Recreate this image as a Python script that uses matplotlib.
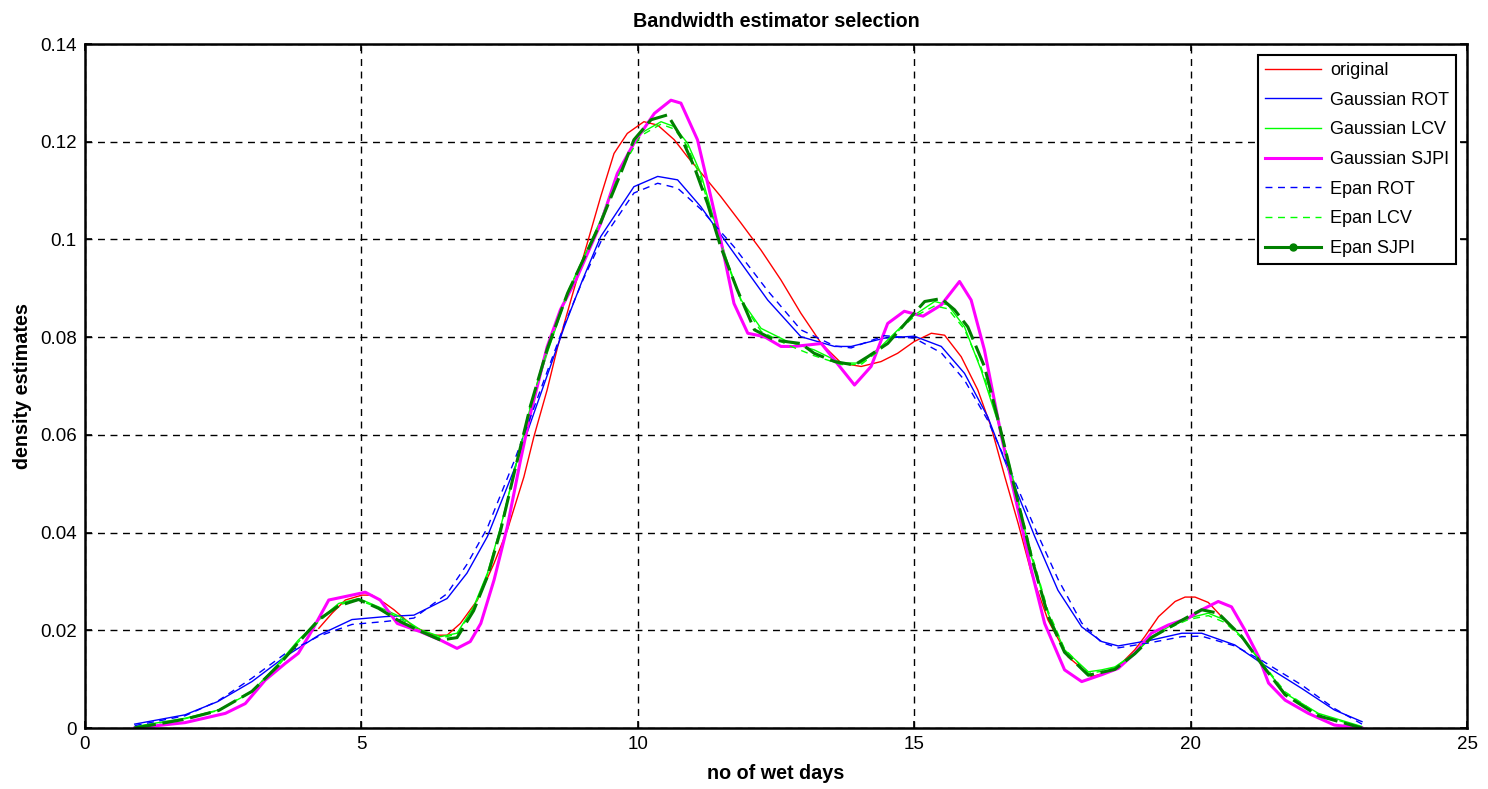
import matplotlib.pyplot as plt
from matplotlib.lines import Line2D

plt.rcParams['font.family'] = ['Liberation Sans', 'DejaVu Sans']

# values
rot_x = [0.9, 1.81, 2.4, 3.02, 3.62, 4.23, 4.83, 5.43, 5.95, 6.55, 6.91, 7.28, 7.76, 8.12, 8.67, 9.0,
         9.33, 9.93, 10.36, 10.72, 11.14, 11.74, 12.35, 12.95, 13.56, 13.86, 14.46, 15.0, 15.49, 15.91,
         16.33, 16.82, 17.18, 17.6, 18.03, 18.39, 18.69, 19.29, 19.84, 20.2, 20.8, 21.29, 22.01, 22.6, 23.1]
gauss_rot = [0.0008, 0.0027, 0.0054, 0.0095, 0.0146, 0.019, 0.0222, 0.0228, 0.0231, 0.0265, 0.0317,
             0.0392, 0.0528, 0.0644, 0.0821, 0.0917, 0.1006, 0.1108, 0.1129, 0.1122, 0.1067, 0.0972,
             0.0876, 0.0801, 0.0781, 0.0781, 0.0798, 0.0802, 0.0781, 0.0726, 0.0637, 0.0494, 0.0392,
             0.0282, 0.0207, 0.0177, 0.0168, 0.018, 0.0194, 0.0194, 0.017, 0.0132, 0.0081, 0.0037, 0.0013]
epan_rot = [0.0005, 0.0025, 0.0055, 0.0102, 0.0152, 0.0188, 0.0212, 0.0218, 0.0225, 0.0275, 0.0335,
            0.041, 0.0545, 0.0655, 0.0825, 0.0915, 0.0995, 0.1095, 0.1115, 0.1105, 0.1062, 0.0985,
            0.0895, 0.0815, 0.0782, 0.0778, 0.0803, 0.0798, 0.0768, 0.0712, 0.063, 0.0505, 0.041,
            0.0305, 0.0215, 0.0175, 0.0164, 0.0175, 0.0187, 0.0188, 0.0168, 0.0138, 0.0088, 0.004, 0.0008]

orig_x = [4.23, 4.47, 4.71, 5.01, 5.19, 5.43, 5.59, 5.95, 6.31, 6.55, 6.79, 7.1, 7.4, 7.64, 7.94, 8.12,
          8.36, 8.55, 8.79, 9.33, 9.57, 9.81, 10.11, 10.36, 10.66, 10.9, 11.2, 11.5, 11.87, 12.23, 12.59,
          12.95, 13.32, 13.68, 14.04, 14.4, 14.7, 15.0, 15.31, 15.55, 15.85, 16.15, 16.39, 16.64, 16.88,
          17.12, 17.42, 17.78, 18.21, 18.63, 18.99, 19.17, 19.42, 19.72, 19.9, 20.08, 20.32, 20.56, 20.77]
original = [0.0204, 0.0235, 0.0262, 0.0272, 0.0272, 0.0255, 0.0242, 0.0207, 0.019, 0.019, 0.0214, 0.0262,
            0.0337, 0.0405, 0.0514, 0.0596, 0.0692, 0.078, 0.0876, 0.1088, 0.1176, 0.1217, 0.1241, 0.1234,
            0.1204, 0.1169, 0.1129, 0.1088, 0.1033, 0.0978, 0.0917, 0.0849, 0.0787, 0.0747, 0.074, 0.075,
            0.0767, 0.0791, 0.0808, 0.0804, 0.076, 0.0692, 0.0617, 0.0514, 0.0419, 0.0317, 0.0221, 0.0146,
            0.0105, 0.0119, 0.016, 0.0187, 0.0228, 0.0259, 0.0268, 0.0268, 0.0257, 0.0228, 0.0201]

sjpi_x = [0.9, 1.81, 2.54, 2.9, 3.26, 3.62, 3.86, 4.11, 4.41, 4.83, 5.07, 5.34, 5.65, 6.07, 6.43, 6.73,
          6.97, 7.16, 7.4, 7.64, 7.88, 8.06, 8.36, 8.6, 8.88, 9.33, 9.63, 9.93, 10.3, 10.6, 10.78, 11.08,
          11.32, 11.5, 11.74, 11.99, 12.29, 12.59, 12.83, 13.32, 13.56, 13.92, 14.22, 14.52, 14.82, 15.16,
          15.49, 15.82, 16.03, 16.27, 16.58, 16.88, 17.12, 17.36, 17.72, 18.03, 18.39, 18.69, 18.99, 19.29,
          19.6, 19.96, 20.2, 20.5, 20.74, 20.98, 21.23, 21.41, 21.71, 22.13, 22.6, 23.1]
gauss_sjpi = [0.0, 0.0011, 0.003, 0.005, 0.0098, 0.0132, 0.0153, 0.02, 0.0262, 0.0272, 0.0278, 0.0262,
              0.0214, 0.0197, 0.018, 0.0163, 0.0177, 0.0214, 0.0303, 0.0412, 0.0549, 0.0644, 0.078,
              0.0856, 0.0917, 0.1033, 0.1135, 0.1197, 0.1258, 0.1285, 0.1279, 0.1204, 0.1088, 0.0999,
              0.0869, 0.0808, 0.0801, 0.0781, 0.0781, 0.0787, 0.0753, 0.0702, 0.074, 0.0828, 0.0853,
              0.0843, 0.0866, 0.0914, 0.0876, 0.0774, 0.0596, 0.0446, 0.0323, 0.0214, 0.0119, 0.0095,
              0.0109, 0.0122, 0.0153, 0.0194, 0.0211, 0.0225, 0.0242, 0.0259, 0.0248, 0.0201, 0.0146,
              0.0092, 0.0057, 0.003, 0.0006, 0.0]

lcv_x = [0.9, 1.81, 2.42, 3.02, 3.5, 3.86, 4.23, 4.59, 4.95, 5.31, 5.7, 6.07, 6.43, 6.73, 7.03, 7.28,
         7.52, 7.76, 8.06, 8.36, 8.73, 9.33, 9.69, 10.05, 10.42, 10.66, 10.9, 11.14, 11.38, 11.63, 11.87,
         12.23, 12.71, 13.19, 13.68, 14.04, 14.4, 14.76, 15.0, 15.37, 15.61, 15.91, 16.21, 16.52, 16.82,
         17.12, 17.42, 17.72, 18.15, 18.39, 18.63, 18.99, 19.29, 19.6, 19.96, 20.32, 20.62, 20.92, 21.29,
         21.71, 22.31, 23.1]
gauss_lcv = [0.0003, 0.002, 0.0037, 0.0074, 0.0132, 0.018, 0.0221, 0.0255, 0.0265, 0.0248, 0.0228,
             0.0201, 0.0187, 0.0194, 0.0248, 0.0317, 0.0412, 0.0521, 0.0658, 0.0767, 0.089, 0.104,
             0.1149, 0.1217, 0.1241, 0.1231, 0.1197, 0.1135, 0.104, 0.0951, 0.0876, 0.0818, 0.0791,
             0.0774, 0.0747, 0.0747, 0.0781, 0.0821, 0.0845, 0.0873, 0.0866, 0.0821, 0.0733, 0.0624,
             0.0487, 0.0351, 0.0235, 0.016, 0.0115, 0.0119, 0.0125, 0.0153, 0.0187, 0.0207, 0.0225,
             0.0235, 0.0221, 0.0187, 0.0132, 0.0071, 0.003, 0.0003]
epan_lcv = [0.0002, 0.0019, 0.0036, 0.0076, 0.0128, 0.0176, 0.0218, 0.0252, 0.0262, 0.0246, 0.0224,
            0.0199, 0.0184, 0.0192, 0.0244, 0.0314, 0.041, 0.0522, 0.0662, 0.0772, 0.0892, 0.1038,
            0.1142, 0.1212, 0.1236, 0.1226, 0.119, 0.1125, 0.1032, 0.0948, 0.0874, 0.0812, 0.0784,
            0.0762, 0.0744, 0.0744, 0.0776, 0.0818, 0.0842, 0.0864, 0.0858, 0.0816, 0.0738, 0.0632,
            0.0495, 0.0358, 0.024, 0.0162, 0.0112, 0.0116, 0.0124, 0.0152, 0.0186, 0.0204, 0.0222,
            0.023, 0.0216, 0.0185, 0.0134, 0.0074, 0.0028, 0.0001]

esjpi_x = [0.9, 1.81, 2.42, 3.02, 3.5, 3.86, 4.23, 4.59, 4.95, 5.31, 5.7, 6.07, 6.43, 6.73, 7.03, 7.28,
           7.52, 7.76, 8.06, 8.36, 8.73, 9.33, 9.69, 9.93, 10.24, 10.54, 10.78, 11.02, 11.26, 11.5, 11.8,
           12.11, 12.47, 12.95, 13.19, 13.56, 13.92, 14.16, 14.52, 15.0, 15.19, 15.49, 15.73, 15.97,
           16.27, 16.52, 16.82, 17.12, 17.42, 17.72, 18.15, 18.63, 18.99, 19.29, 19.6, 19.96, 20.2, 20.5,
           20.92, 21.29, 21.71, 22.31, 23.1]
epan_sjpi = [0.0, 0.0018, 0.0036, 0.0075, 0.0128, 0.0175, 0.0222, 0.025, 0.0263, 0.0245, 0.0218,
             0.0198, 0.018, 0.0185, 0.024, 0.031, 0.0405, 0.052, 0.066, 0.0775, 0.089, 0.1035, 0.1135,
             0.1204, 0.1245, 0.1255, 0.121, 0.1149, 0.1074, 0.0985, 0.0897, 0.0815, 0.0794, 0.0787,
             0.0767, 0.075, 0.0743, 0.076, 0.0787, 0.0849, 0.0873, 0.0879, 0.0856, 0.0821, 0.074, 0.063,
             0.049, 0.035, 0.023, 0.0155, 0.0108, 0.012, 0.0152, 0.0185, 0.0205, 0.0228, 0.0242, 0.0235,
             0.0188, 0.013, 0.0068, 0.0025, 0.0]

xticks = [0, 5, 10, 15, 20, 25]
yticks = [0, 0.02, 0.04, 0.06, 0.08, 0.1, 0.12, 0.14]
ytick_labels = ['0', '0.02', '0.04', '0.06', '0.08', '0.1', '0.12', '0.14']

fig = plt.figure(figsize=(14.88, 7.89), dpi=100)
ax = fig.add_axes([0.0571, 0.0773, 0.9288, 0.8669])

dark_green = (0, 0.5, 0)
ax.plot(orig_x, original, color='red', lw=1.0)
ax.plot(rot_x, gauss_rot, color='blue', lw=1.0)
ax.plot(lcv_x, gauss_lcv, color='lime', lw=1.0)
ax.plot(sjpi_x, gauss_sjpi, color='magenta', lw=2.2)
ax.plot(rot_x, epan_rot, color='blue', lw=1.0, dashes=(5, 4))
ax.plot(lcv_x, epan_lcv, color='lime', lw=1.0, dashes=(5, 4))
ax.plot(esjpi_x, epan_sjpi, color=dark_green, lw=2.2, dashes=(7, 2.2))

ax.set_xlim(0, 25)
ax.set_ylim(0, 0.14)
ax.set_xticks(xticks)
ax.set_yticks(yticks)
ax.set_yticklabels(ytick_labels)
ax.tick_params(direction='in', length=5, width=1.2, top=True, right=True, labelsize=13.5, pad=6)
ax.grid(True, color='black', linestyle=(0, (5, 4)), linewidth=1.0)
for s in ax.spines.values():
    s.set_linewidth(1.8)

ax.set_title('Bandwidth estimator selection', fontsize=14.2, fontweight='bold', pad=12)
ax.set_xlabel('no of wet days', fontsize=14.2, fontweight='bold', labelpad=8)
ax.set_ylabel('density estimates', fontsize=14.2, fontweight='bold', labelpad=6)

handles = [
    Line2D([0], [0], color='red', lw=1.0),
    Line2D([0], [0], color='blue', lw=1.0),
    Line2D([0], [0], color='lime', lw=1.0),
    Line2D([0], [0], color='magenta', lw=2.2),
    Line2D([0], [0], color='blue', lw=1.0, dashes=(5, 4)),
    Line2D([0], [0], color='lime', lw=1.0, dashes=(5, 4)),
    Line2D([0], [0], color=dark_green, lw=2.2, marker='o', markersize=5, markevery=[1]),
]
labels = ['original', 'Gaussian ROT', 'Gaussian LCV', 'Gaussian SJPI', 'Epan ROT', 'Epan LCV', 'Epan SJPI']
leg = ax.legend(handles, labels, loc='upper right', fontsize=13, fancybox=False, framealpha=1,
                edgecolor='black', handlelength=3.1, labelspacing=0.7, borderaxespad=0.6,
                handletextpad=0.5, borderpad=0.4)
leg.get_frame().set_linewidth(1.5)

fig.savefig('out.png', dpi=100)
